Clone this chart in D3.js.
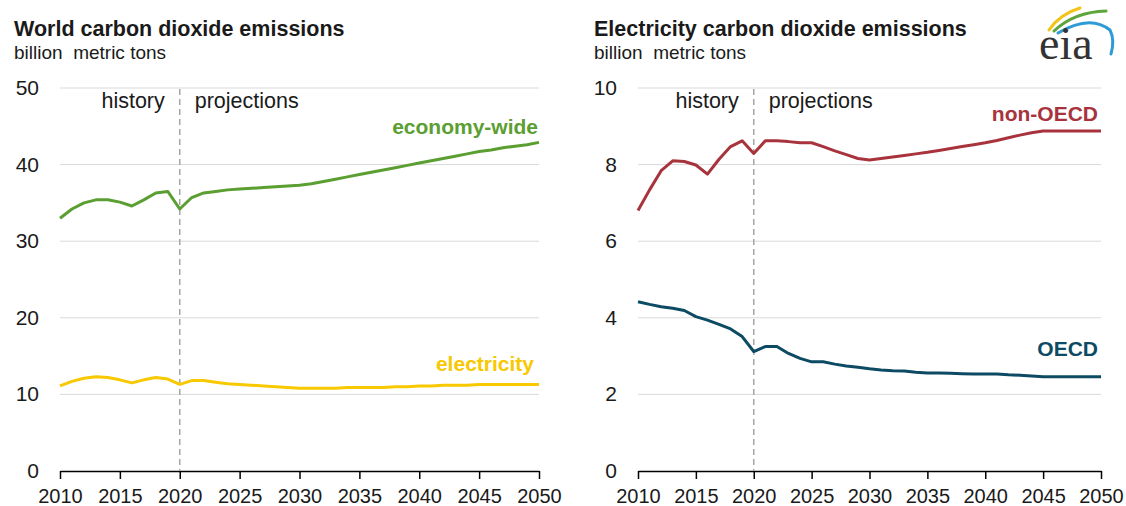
<!doctype html>
<html lang="en">
<head>
<meta charset="utf-8">
<title>World and electricity carbon dioxide emissions</title>
<script src="https://cdn.jsdelivr.net/npm/d3@7/dist/d3.min.js"></script>
<style>
  body { margin: 0; background: #fff; }
  text { font-family: "Liberation Sans", Arial, sans-serif; fill: #1a1a1a; }
</style>
</head>
<body>
<script>
// years 2010..2050
var years = d3.range(2010, 2051);

var economyWide = [33.0, 34.2, 35.0, 35.4, 35.4, 35.1, 34.6, 35.4, 36.3, 36.5,
  34.2, 35.7, 36.3, 36.5, 36.7, 36.8, 36.9, 37.0, 37.1, 37.2,
  37.3, 37.5, 37.8, 38.1, 38.4, 38.7, 39.0, 39.3, 39.6, 39.9,
  40.2, 40.5, 40.8, 41.1, 41.4, 41.7, 41.9, 42.2, 42.4, 42.6, 42.9];

var electricity = [11.1, 11.7, 12.1, 12.3, 12.2, 11.9, 11.5, 11.9, 12.2, 12.0,
  11.3, 11.8, 11.8, 11.6, 11.4, 11.3, 11.2, 11.1, 11.0, 10.9,
  10.8, 10.8, 10.8, 10.8, 10.9, 10.9, 10.9, 10.9, 11.0, 11.0,
  11.1, 11.1, 11.2, 11.2, 11.2, 11.3, 11.3, 11.3, 11.3, 11.3, 11.3];

var nonOECD = [6.80, 7.34, 7.84, 8.10, 8.08, 7.99, 7.75, 8.14, 8.47, 8.62,
  8.29, 8.62, 8.62, 8.60, 8.57, 8.57, 8.47, 8.36, 8.26, 8.16,
  8.12, 8.16, 8.20, 8.24, 8.28, 8.32, 8.37, 8.42, 8.47, 8.52,
  8.57, 8.63, 8.70, 8.77, 8.83, 8.88, 8.88, 8.88, 8.88, 8.88, 8.88];

var OECD = [4.42, 4.35, 4.29, 4.25, 4.19, 4.03, 3.94, 3.83, 3.71, 3.51,
  3.12, 3.25, 3.25, 3.07, 2.94, 2.85, 2.85, 2.79, 2.74, 2.71,
  2.67, 2.64, 2.62, 2.61, 2.58, 2.56, 2.56, 2.55, 2.54, 2.53,
  2.53, 2.53, 2.51, 2.50, 2.48, 2.46, 2.46, 2.46, 2.46, 2.46, 2.46];

var xTicks = [2010, 2015, 2020, 2025, 2030, 2035, 2040, 2045, 2050];
var leftTicks = [0, 10, 20, 30, 40, 50];
var rightTicks = [0, 2, 4, 6, 8, 10];

var svg = d3.select("body").append("svg")
    .attr("width", 1126).attr("height", 506);

function panel(opt) {
    var x = d3.scaleLinear().domain([2010, 2050]).range([opt.left, opt.right]);
    var y = d3.scaleLinear().domain([0, opt.max]).range([471, 88]);
    var g = svg.append("g");

    g.append("text").attr("x", opt.titleX).attr("y", 36)
        .style("font-size", "21.5px").style("font-weight", "bold")
        .text(opt.title);
    g.append("text").attr("x", opt.titleX).attr("y", 59)
        .style("font-size", "19px").attr("xml:space", "preserve")
        .text("billion  metric tons");

    // gridlines
    g.append("g").selectAll("line").data(opt.yTicks.filter(function(d){ return d > 0; }))
        .enter().append("line")
        .attr("x1", opt.left).attr("x2", opt.right)
        .attr("y1", function(d){ return y(d); }).attr("y2", function(d){ return y(d); })
        .attr("stroke", "#d9d9d9").attr("stroke-width", 1);

    // y labels
    g.append("g").selectAll("text").data(opt.yTicks)
        .enter().append("text")
        .attr("x", opt.left - 21).attr("y", function(d){ return y(d) + 7; })
        .attr("text-anchor", "end").style("font-size", "21px")
        .text(function(d){ return d; });

    // x axis
    var xAxis = d3.axisBottom(x).tickValues(xTicks).tickFormat(d3.format("d"))
        .tickSize(8).tickSizeOuter(0);
    var ax = g.append("g").attr("transform", "translate(0,471)").call(xAxis);
    ax.select(".domain").attr("stroke", "#000").attr("stroke-width", 1.5);
    ax.selectAll(".tick line").attr("stroke", "#000").attr("stroke-width", 1.5);
    ax.selectAll(".tick text").attr("y", 18)
        .style("font-size", "20px").style("font-family", "Liberation Sans, Arial, sans-serif")
        .attr("fill", "#1a1a1a");

    // history / projections divider
    g.append("line").attr("x1", x(2020)).attr("x2", x(2020))
        .attr("y1", 89).attr("y2", 471)
        .attr("stroke", "#a6a6a6").attr("stroke-width", 1.5)
        .attr("stroke-dasharray", "6,4");
    g.append("text").attr("x", x(2020) - 15).attr("y", 108)
        .attr("text-anchor", "end").style("font-size", "21.5px").text("history");
    g.append("text").attr("x", x(2020) + 15).attr("y", 108)
        .style("font-size", "21.5px").text("projections");

    var line = d3.line()
        .x(function(d, i){ return x(years[i]); })
        .y(function(d){ return y(d); });

    opt.series.forEach(function(s) {
        g.append("path").datum(s.values)
            .attr("d", line).attr("fill", "none")
            .attr("stroke", s.color).attr("stroke-width", 3)
            .attr("stroke-linejoin", "round");
        g.append("text").attr("x", s.lx).attr("y", s.ly)
            .attr("text-anchor", "end")
            .style("font-size", "21px").style("font-weight", "bold")
            .style("fill", s.color).text(s.name);
    });
}

panel({
    left: 60, right: 539, max: 50, yTicks: leftTicks, titleX: 14,
    title: "World carbon dioxide emissions",
    series: [
        {values: economyWide, color: "#5b9e31", name: "economy-wide", lx: 538, ly: 134},
        {values: electricity, color: "#f8c800", name: "electricity", lx: 534, ly: 371}
    ]
});

panel({
    left: 638, right: 1101, max: 10, yTicks: rightTicks, titleX: 594,
    title: "Electricity carbon dioxide emissions",
    series: [
        {values: nonOECD, color: "#a8333d", name: "non-OECD", lx: 1098, ly: 121},
        {values: OECD, color: "#0d4a63", name: "OECD", lx: 1098, ly: 356}
    ]
});

// eia logo
var logo = svg.append("g");
logo.append("path").attr("d", "M1049,30 Q1060,14 1080,8")
    .attr("fill", "none").attr("stroke", "#f2c318").attr("stroke-width", 3).attr("stroke-linecap", "round");
logo.append("path").attr("d", "M1054,31 Q1074,12 1106,11")
    .attr("fill", "none").attr("stroke", "#5da53b").attr("stroke-width", 3).attr("stroke-linecap", "round");
logo.append("path").attr("d", "M1058,33 Q1090,14 1110,30 Q1115,40 1111,54")
    .attr("fill", "none").attr("stroke", "#2e9bd6").attr("stroke-width", 3).attr("stroke-linecap", "round");
logo.append("text").attr("x", 1039).attr("y", 59)
    .style("font-family", "Liberation Serif, Times New Roman, serif")
    .style("font-size", "46px").style("fill", "#333").text("eia");
</script>
</body>
</html>
